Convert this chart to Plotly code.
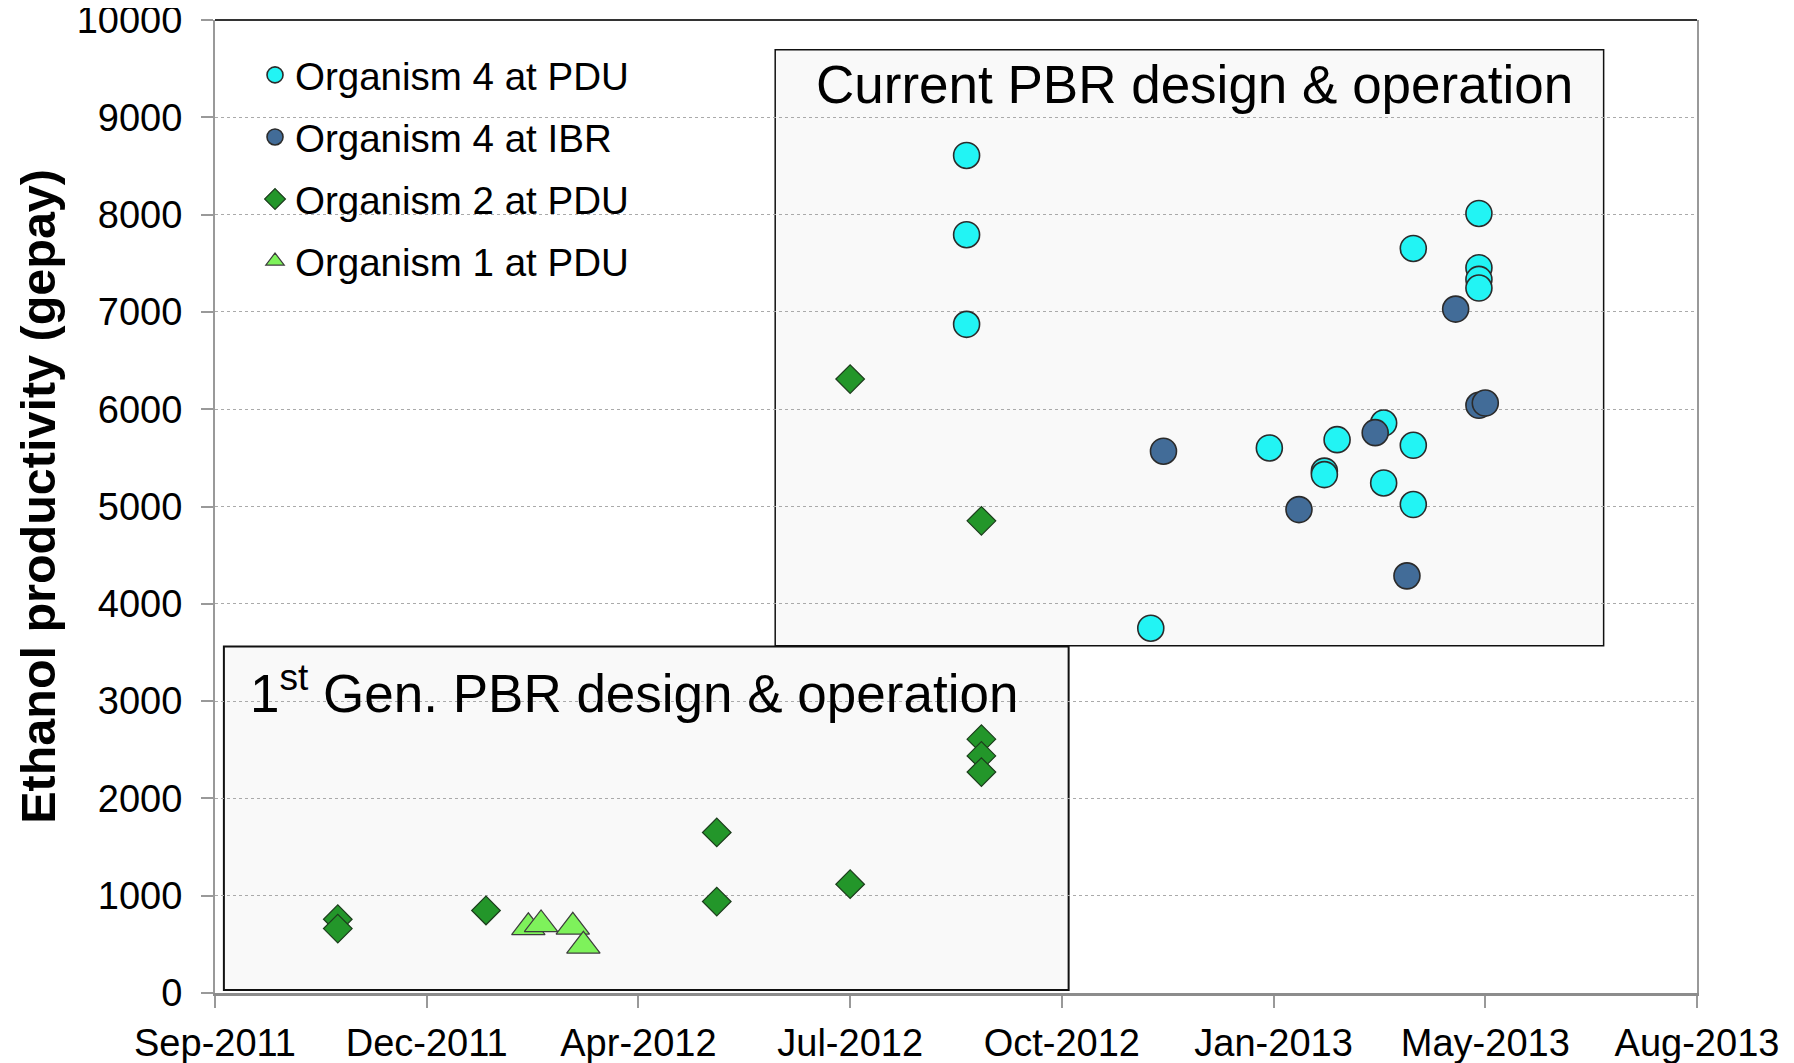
import plotly.graph_objects as go

# x axis: date ticks are evenly spaced (every 100 days)
tick_dates = ['2011-09-14', '2011-12-23', '2012-04-01', '2012-07-10',
              '2012-10-18', '2013-01-26', '2013-05-06', '2013-08-14']
tick_labels = ['Sep-2011', 'Dec-2011', 'Apr-2012', 'Jul-2012',
               'Oct-2012', 'Jan-2013', 'May-2013', 'Aug-2013']
y_ticks = [0, 1000, 2000, 3000, 4000, 5000, 6000, 7000, 8000, 9000, 10000]
y_tick_labels = [str(v) for v in y_ticks]

# Organism 4 at PDU
org4_pdu_dates = ['2012-09-03', '2012-09-03', '2012-09-03', '2012-11-29',
                  '2013-01-24', '2013-02-19', '2013-02-19', '2013-02-25',
                  '2013-03-19', '2013-03-19', '2013-04-02', '2013-04-02',
                  '2013-04-02', '2013-05-03', '2013-05-03', '2013-05-03',
                  '2013-05-03']
org4_pdu_vals = [8608, 7793, 6872, 3749,
                 5602, 5364, 5328, 5687,
                 5858, 5242, 7652, 5629,
                 5020, 8012, 7454, 7334,
                 7245]

# Organism 4 at IBR
org4_ibr_dates = ['2012-12-05', '2013-02-07', '2013-03-15', '2013-03-30',
                  '2013-04-22', '2013-05-03', '2013-05-06']
org4_ibr_vals = [5568, 4968, 5759, 4287, 7029, 6040, 6063]

# Organism 2 at PDU
org2_pdu_dates = ['2011-11-11', '2011-11-11', '2012-01-20', '2012-05-08',
                  '2012-05-08', '2012-07-10', '2012-07-10', '2012-09-10',
                  '2012-09-10', '2012-09-10', '2012-09-10']
org2_pdu_vals = [758, 662, 848, 1650,
                 940, 1118, 6310, 2609,
                 2437, 2271, 4853]

# Organism 1 at PDU
org1_pdu_dates = ['2012-02-09', '2012-02-15', '2012-03-01', '2012-03-06']
org1_pdu_vals = [675, 705, 680, 485]

FONT = 'Arial, Liberation Sans, sans-serif'

fig = go.Figure()
fig.add_trace(go.Scatter(
    x=org4_pdu_dates, y=org4_pdu_vals, mode='markers', name='Organism 4 at PDU',
    legendgroup='a',
    marker=dict(symbol='circle', size=26, color='#22F4F4',
                line=dict(color='#2b2b2b', width=1.6))))
fig.add_trace(go.Scatter(
    x=org4_ibr_dates, y=org4_ibr_vals, mode='markers', name='Organism 4 at IBR',
    legendgroup='b',
    marker=dict(symbol='circle', size=26, color='#426C98',
                line=dict(color='#2b2b2b', width=1.6))))
fig.add_trace(go.Scatter(
    x=org2_pdu_dates, y=org2_pdu_vals, mode='markers', name='Organism 2 at PDU',
    legendgroup='c',
    marker=dict(symbol='diamond', size=22, color='#23962A',
                line=dict(color='#1c3d1c', width=1.2))))
fig.add_trace(go.Scatter(
    x=org1_pdu_dates, y=org1_pdu_vals, mode='markers', name='Organism 1 at PDU',
    legendgroup='d',
    marker=dict(symbol='triangle-up', size=29, color='#7EF25B',
                line=dict(color='#3d3d3d', width=1.2))))

# shaded boxes behind the points
fig.add_shape(type='rect', xref='paper', yref='paper', x0=0.378, x1=0.937,
              y0=0.357, y1=0.9695, fillcolor='#F9F9F9',
              line=dict(color='#111', width=1.5), layer='below')
fig.add_shape(type='rect', xref='paper', yref='paper', x0=0.006, x1=0.576,
              y0=0.003, y1=0.356, fillcolor='#F9F9F9',
              line=dict(color='#111', width=2), layer='below')
# top frame line
fig.add_shape(type='line', xref='paper', yref='paper', x0=0, x1=1, y0=1, y1=1,
              line=dict(color='#333', width=2))

fig.add_annotation(text='Current PBR design & operation', xref='paper', yref='paper',
                   x=0.661, y=0.934, xanchor='center', yanchor='middle', showarrow=False,
                   font=dict(family=FONT, size=53, color='black'))
fig.add_annotation(text='1<sup>st</sup> Gen. PBR design & operation', xref='paper', yref='paper',
                   x=0.283, y=0.312, xanchor='center', yanchor='middle', showarrow=False,
                   font=dict(family=FONT, size=53, color='black'))
# y axis title, sits a little above the middle of the axis
fig.add_annotation(text='<b>Ethanol productivity (gepay)</b>', xref='paper', yref='paper',
                   x=-0.1194, y=0.51, xanchor='center', yanchor='middle',
                   textangle=-90, showarrow=False,
                   font=dict(family=FONT, size=48.5, color='black'))

# page body adds an 8px offset, so the figure is 8px smaller than the window
fig.update_layout(
    width=1786, height=1055,
    margin=dict(l=207, r=97, t=12, b=70),
    paper_bgcolor='white', plot_bgcolor='white',
    font=dict(family=FONT, size=38, color='black'),
    showlegend=True,
    legend=dict(x=0.027, y=0.976, xanchor='left', yanchor='top',
                bgcolor='rgba(0,0,0,0)', tracegroupgap=9,
                font=dict(family=FONT, size=38.5), itemsizing='trace'),
    xaxis=dict(type='date', range=['2011-09-14', '2013-08-14'],
               tickvals=tick_dates, ticktext=tick_labels,
               showgrid=False, zeroline=False, automargin=False,
               showline=True, linecolor='#8c8c8c', linewidth=3,
               ticks='outside', ticklen=12, tickcolor='#999', tickwidth=1.5,
               ticklabelstandoff=2, ticklabeloverflow='allow',
               tickfont=dict(family=FONT, size=38)),
    yaxis=dict(range=[0, 10000], tickvals=y_ticks, ticktext=y_tick_labels,
               showgrid=True, gridcolor='#aaaaaa', griddash='dot', gridwidth=1.2,
               zeroline=False, showline=True, mirror=True, automargin=False,
               linecolor='#999', linewidth=2,
               ticks='outside', ticklen=12, tickcolor='#999', tickwidth=1.5,
               ticklabelstandoff=11, ticklabeloverflow='allow',
               tickfont=dict(family=FONT, size=38)),
)

fig.write_html('out.html')
